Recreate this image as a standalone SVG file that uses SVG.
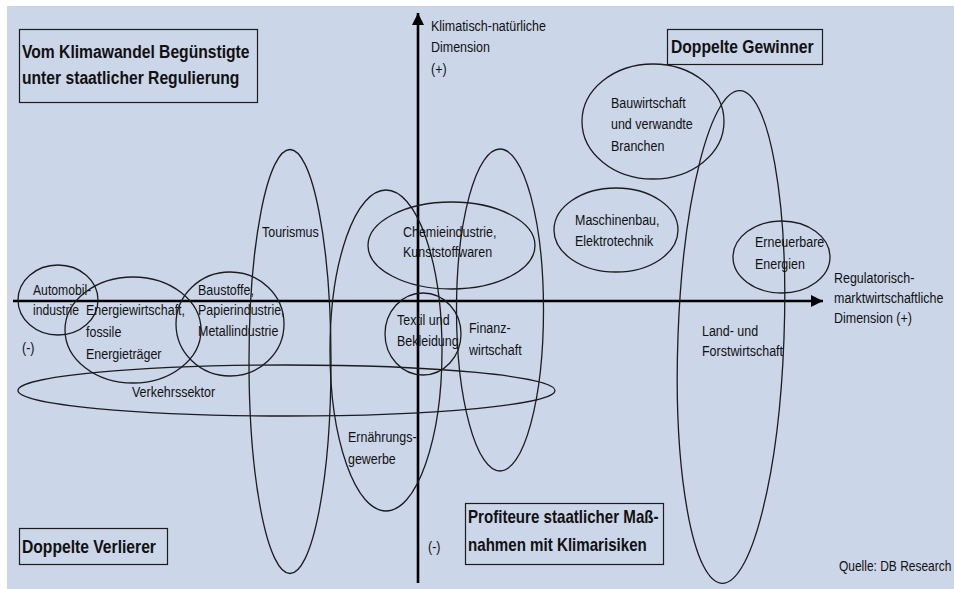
<svg xmlns="http://www.w3.org/2000/svg" width="954" height="589" viewBox="0 0 954 589">
<style>
.bg{fill:#cbd6e8}
.el{fill:none;stroke:#1c1c1c;stroke-width:1.3}
.box{fill:none;stroke:#1c1c1c;stroke-width:1.2}
.ax{stroke:#000;stroke-width:2.6;fill:none}
.t{font-family:"Liberation Sans",Arial,sans-serif;font-size:14px;fill:#111}
.b{font-family:"Liberation Sans",Arial,sans-serif;font-size:18px;font-weight:bold;fill:#111}
</style>
<defs>
<marker id="arr" markerUnits="userSpaceOnUse" markerWidth="14" markerHeight="14" refX="12" refY="6" orient="auto">
<path d="M0,0 L12,6 L0,12 Z" fill="#000"/>
</marker>
</defs>
<rect class="bg" x="7" y="6" width="947" height="583"/>

<g id="connectors">
<line class="ax" x1="13" y1="301" x2="823" y2="301" marker-end="url(#arr)"/>
<line class="ax" x1="418" y1="583" x2="418" y2="13" marker-end="url(#arr)"/>
</g>

<g id="axis-labels">
<text class="t" transform="translate(431,31) scale(0.89,1)"><tspan x="0" y="0">Klimatisch-natürliche</tspan><tspan x="0" y="21.5">Dimension</tspan><tspan x="0" y="43">(+)</tspan></text>
<text class="t" transform="translate(834,283) scale(0.89,1)"><tspan x="0" y="0">Regulatorisch-</tspan><tspan x="0" y="20">marktwirtschaftliche</tspan><tspan x="0" y="40">Dimension (+)</tspan></text>
<text class="t" transform="translate(22,353) scale(0.89,1)">(-)</text>
<text class="t" transform="translate(428,552) scale(0.89,1)">(-)</text>
<text class="t" transform="translate(839,571) scale(0.855,1)">Quelle: DB Research</text>
</g>

<g id="box-beguenstigte">
<rect class="box" x="19.5" y="29.5" width="238" height="73"/>
<text class="b" transform="translate(22,58) scale(0.87,1)"><tspan x="0" y="0">Vom Klimawandel Begünstigte</tspan><tspan x="0" y="26">unter staatlicher Regulierung</tspan></text>
</g>
<g id="box-gewinner">
<rect class="box" x="667.5" y="29.5" width="155" height="35"/>
<text class="b" transform="translate(671,53) scale(0.87,1)">Doppelte Gewinner</text>
</g>
<g id="box-verlierer">
<rect class="box" x="19.5" y="528.5" width="148" height="36"/>
<text class="b" transform="translate(22,553) scale(0.87,1)">Doppelte Verlierer</text>
</g>
<g id="box-profiteure">
<rect class="box" x="465.5" y="503.5" width="198" height="61"/>
<text class="b" transform="translate(468,523) scale(0.84,1)"><tspan x="0" y="0">Profiteure staatlicher Maß-</tspan><tspan x="0" y="28">nahmen mit Klimarisiken</tspan></text>
</g>

<g id="automobil">
<ellipse class="el" cx="58" cy="300" rx="40" ry="35"/>
<text class="t" transform="translate(33,295) scale(0.87,1)"><tspan x="0" y="0">Automobil-</tspan><tspan x="0" y="20">industrie</tspan></text>
</g>
<g id="energie">
<ellipse class="el" cx="133" cy="330" rx="68" ry="53"/>
<text class="t" transform="translate(86,315) scale(0.89,1)"><tspan x="0" y="0">Energiewirtschaft,</tspan><tspan x="0" y="22">fossile</tspan><tspan x="0" y="44">Energieträger</tspan></text>
</g>
<g id="baustoffe">
<ellipse class="el" cx="230" cy="324" rx="54" ry="52"/>
<text class="t" transform="translate(198,295) scale(0.89,1)"><tspan x="0" y="0">Baustoffe,</tspan><tspan x="0" y="20.5">Papierindustrie,</tspan><tspan x="0" y="41">Metallindustrie</tspan></text>
</g>
<g id="verkehr">
<ellipse class="el" cx="286.5" cy="390.5" rx="268.5" ry="25.5"/>
<text class="t" transform="translate(132,397) scale(0.89,1)">Verkehrssektor</text>
</g>
<g id="tourismus">
<ellipse class="el" cx="290" cy="361.5" rx="41" ry="212"/>
<text class="t" transform="translate(262,237) scale(0.89,1)">Tourismus</text>
</g>
<g id="ernaehrung">
<ellipse class="el" cx="386" cy="350.5" rx="56" ry="160.5"/>
<text class="t" transform="translate(348,442) scale(0.89,1)"><tspan x="0" y="0">Ernährungs-</tspan><tspan x="0" y="22">gewerbe</tspan></text>
</g>
<g id="chemie">
<ellipse class="el" cx="451.5" cy="245.5" rx="83.5" ry="43.5"/>
<text class="t" transform="translate(403,237) scale(0.89,1)"><tspan x="0" y="0">Chemieindustrie,</tspan><tspan x="0" y="20">Kunststoffwaren</tspan></text>
</g>
<g id="textil">
<ellipse class="el" cx="423" cy="334" rx="38" ry="41"/>
<text class="t" transform="translate(397,325) scale(0.89,1)"><tspan x="0" y="0">Textil und</tspan><tspan x="0" y="21">Bekleidung</tspan></text>
</g>
<g id="finanz">
<ellipse class="el" cx="500" cy="310" rx="43.5" ry="161"/>
<text class="t" transform="translate(469,333) scale(0.89,1)"><tspan x="0" y="0">Finanz-</tspan><tspan x="0" y="22">wirtschaft</tspan></text>
</g>
<g id="bau">
<ellipse class="el" cx="653" cy="121.5" rx="71" ry="57.5"/>
<text class="t" transform="translate(611,108) scale(0.89,1)"><tspan x="0" y="0">Bauwirtschaft</tspan><tspan x="0" y="21.5">und verwandte</tspan><tspan x="0" y="43">Branchen</tspan></text>
</g>
<g id="maschinenbau">
<ellipse class="el" cx="616" cy="230" rx="62" ry="42"/>
<text class="t" transform="translate(575,225) scale(0.89,1)"><tspan x="0" y="0">Maschinenbau,</tspan><tspan x="0" y="21">Elektrotechnik</tspan></text>
</g>
<g id="land">
<ellipse class="el" cx="731" cy="337" rx="53" ry="246.5" transform="rotate(2.1 731 337)"/>
<text class="t" transform="translate(702,336) scale(0.89,1)"><tspan x="0" y="0">Land- und</tspan><tspan x="0" y="20">Forstwirtschaft</tspan></text>
</g>
<g id="erneuerbare">
<ellipse class="el" cx="781.5" cy="257" rx="48.5" ry="36"/>
<text class="t" transform="translate(755,247) scale(0.89,1)"><tspan x="0" y="0">Erneuerbare</tspan><tspan x="0" y="22">Energien</tspan></text>
</g>
</svg>
